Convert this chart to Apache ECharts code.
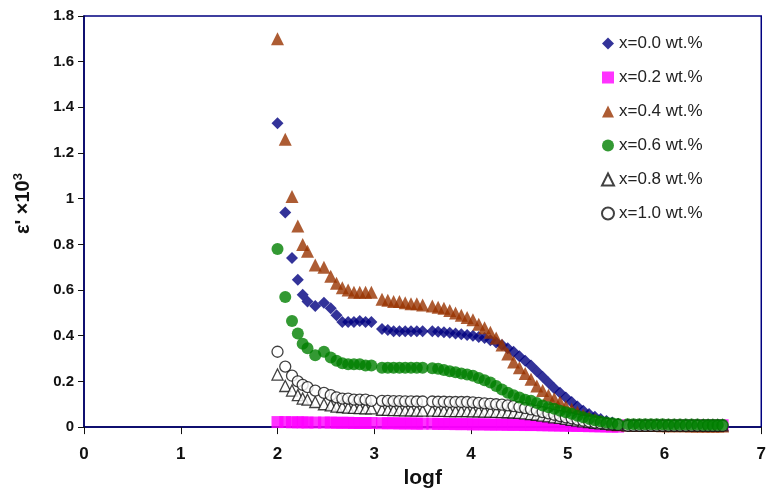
<!DOCTYPE html>
<html>
<head>
<meta charset="utf-8">
<script src="https://cdn.jsdelivr.net/npm/echarts@6/dist/echarts.min.js"></script>
<style>
  html, body { margin: 0; padding: 0; background: #fff; }
  #chart { width: 769px; height: 494px; }
</style>
</head>
<body>
<div id="chart"></div>
<script>
// logf values (shared by every series)
var logf = [
  2.00, 2.08, 2.15, 2.21, 2.26, 2.31, 2.39, 2.48, 2.55, 2.61,
  2.67, 2.73, 2.79, 2.85, 2.91, 2.97, 3.08, 3.14, 3.20, 3.26,
  3.32, 3.38, 3.44, 3.50, 3.60, 3.66, 3.72, 3.78, 3.84, 3.90,
  3.96, 4.02, 4.08, 4.14, 4.20, 4.26, 4.32, 4.38, 4.44, 4.50,
  4.56, 4.62, 4.68, 4.74, 4.80, 4.86, 4.92, 4.98, 5.04, 5.10,
  5.16, 5.22, 5.28, 5.34, 5.40, 5.46, 5.52, 5.62, 5.68, 5.74,
  5.80, 5.86, 5.92, 5.98, 6.04, 6.10, 6.16, 6.22, 6.28, 6.34,
  6.40, 6.45, 6.50, 6.55, 6.60
];

var eps00 = [
  1.33, 0.94, 0.74, 0.645, 0.58, 0.55, 0.53, 0.545, 0.52, 0.49,
  0.46, 0.46, 0.46, 0.465, 0.46, 0.46, 0.43, 0.425, 0.42, 0.42,
  0.42, 0.42, 0.42, 0.42, 0.42, 0.418, 0.415, 0.413, 0.41, 0.407,
  0.403, 0.40, 0.395, 0.39, 0.38, 0.37, 0.36, 0.345, 0.33, 0.31,
  0.29, 0.27, 0.245, 0.22, 0.195, 0.17, 0.15, 0.13, 0.11, 0.09,
  0.072, 0.057, 0.045, 0.035, 0.027, 0.02, 0.014, 0.01, 0.009, 0.008,
  0.008, 0.007, 0.007, 0.007, 0.006, 0.006, 0.006, 0.006, 0.005, 0.005,
  0.005, 0.005, 0.005, 0.005, 0.005
];

var eps02 = [
  0.022, 0.022, 0.021, 0.021, 0.021, 0.02, 0.02, 0.02, 0.02, 0.019,
  0.019, 0.019, 0.018, 0.018, 0.018, 0.018, 0.017, 0.017, 0.017, 0.016,
  0.016, 0.016, 0.015, 0.015, 0.015, 0.014, 0.014, 0.014, 0.013, 0.013,
  0.013, 0.012, 0.012, 0.012, 0.011, 0.011, 0.011, 0.01, 0.01, 0.01,
  0.009, 0.009, 0.009, 0.008, 0.008, 0.007, 0.007, 0.006, 0.006, 0.005,
  0.005, 0.004, 0.004, 0.003, 0.003, 0.002, 0.002, 0.008, 0.008, 0.008,
  0.008, 0.008, 0.008, 0.008, 0.008, 0.008, 0.008, 0.008, 0.008, 0.008,
  0.008, 0.008, 0.008, 0.008, 0.008
];

var eps04 = [
  1.70, 1.26, 1.01, 0.88, 0.80, 0.77, 0.71, 0.70, 0.66, 0.63,
  0.61, 0.60, 0.59, 0.59, 0.59, 0.59, 0.56, 0.555, 0.55, 0.55,
  0.545, 0.54, 0.54, 0.535, 0.53, 0.525, 0.52, 0.51, 0.50, 0.49,
  0.48, 0.47, 0.45, 0.435, 0.415, 0.39, 0.36, 0.32, 0.285, 0.26,
  0.235, 0.21, 0.18, 0.16, 0.14, 0.125, 0.11, 0.09, 0.078, 0.065,
  0.052, 0.042, 0.033, 0.025, 0.019, 0.014, 0.01, 0.009, 0.008, 0.008,
  0.007, 0.007, 0.007, 0.006, 0.006, 0.006, 0.006, 0.006, 0.005, 0.005,
  0.005, 0.005, 0.005, 0.005, 0.005
];

var eps06 = [
  0.78, 0.57, 0.465, 0.41, 0.365, 0.345, 0.315, 0.33, 0.305, 0.29,
  0.28, 0.275, 0.275, 0.275, 0.27, 0.27, 0.26, 0.26, 0.26, 0.26,
  0.26, 0.26, 0.26, 0.26, 0.258, 0.255, 0.25, 0.245, 0.24, 0.235,
  0.23, 0.225, 0.215, 0.205, 0.195, 0.18, 0.165, 0.15, 0.14, 0.13,
  0.12, 0.115, 0.105, 0.095, 0.087, 0.08, 0.072, 0.065, 0.058, 0.05,
  0.043, 0.036, 0.03, 0.025, 0.02, 0.017, 0.014, 0.013, 0.013, 0.012,
  0.012, 0.012, 0.012, 0.012, 0.011, 0.011, 0.011, 0.011, 0.011, 0.011,
  0.01, 0.01, 0.01, 0.01, 0.01
];

var eps08 = [
  0.23, 0.18, 0.16, 0.14, 0.125, 0.12, 0.11, 0.10, 0.095, 0.09,
  0.088, 0.085, 0.084, 0.083, 0.082, 0.082, 0.076, 0.075, 0.074, 0.074,
  0.073, 0.073, 0.072, 0.072, 0.072, 0.071, 0.071, 0.07, 0.07, 0.07,
  0.07, 0.069, 0.069, 0.068, 0.068, 0.067, 0.066, 0.065, 0.064, 0.062,
  0.06, 0.057, 0.054, 0.05, 0.047, 0.043, 0.04, 0.036, 0.032, 0.028,
  0.025, 0.022, 0.019, 0.016, 0.014, 0.012, 0.011, 0.008, 0.008, 0.008,
  0.008, 0.008, 0.008, 0.008, 0.008, 0.008, 0.008, 0.008, 0.008, 0.008,
  0.008, 0.008, 0.008, 0.008, 0.008
];

var eps10 = [
  0.33, 0.265, 0.225, 0.20, 0.185, 0.175, 0.16, 0.15, 0.14, 0.13,
  0.125, 0.125, 0.12, 0.12, 0.12, 0.115, 0.115, 0.115, 0.114, 0.114,
  0.113, 0.113, 0.112, 0.112, 0.112, 0.111, 0.111, 0.11, 0.11, 0.11,
  0.11, 0.108, 0.106, 0.104, 0.102, 0.10, 0.098, 0.095, 0.092, 0.088,
  0.083, 0.078, 0.072, 0.066, 0.06, 0.054, 0.048, 0.043, 0.038, 0.033,
  0.028, 0.024, 0.02, 0.017, 0.014, 0.012, 0.01, 0.006, 0.006, 0.006,
  0.006, 0.006, 0.006, 0.006, 0.006, 0.006, 0.006, 0.006, 0.006, 0.006,
  0.006, 0.006, 0.006, 0.006, 0.006
];

var xTicks = [0, 7, 1];
var yTicks = [0, 1.8, 0.2];

var chart = echarts.init(document.getElementById("chart"));

function pts(ys) {
  return logf.map(function (x, i) {
    return [x, ys[i]];
  });
}

var FONT = "Liberation Sans";

chart.setOption({
  animation: false,
  grid: {
    left: 84,
    right: 6,
    top: 16,
    bottom: 59,
    show: true,
    borderColor: "#000080",
    borderWidth: 1.5
  },
  legend: {
    orient: "vertical",
    left: 596,
    top: 30,
    itemWidth: 12,
    itemHeight: 12,
    itemGap: 17,
    textStyle: {
      fontFamily: FONT,
      fontSize: 17,
      color: "#222"
    }
  },
  xAxis: {
    type: "value",
    min: xTicks[0],
    max: xTicks[1],
    interval: xTicks[2],
    name: "logf",
    nameLocation: "middle",
    nameGap: 37,
    nameTextStyle: {
      fontFamily: FONT,
      fontSize: 21,
      fontWeight: "bold",
      color: "#111"
    },
    axisLine: { lineStyle: { color: "#000060", width: 1.5 } },
    axisTick: { show: true, length: 7, lineStyle: { color: "#111" } },
    axisLabel: {
      margin: 19,
      fontFamily: FONT,
      fontSize: 17,
      fontWeight: "bold",
      color: "#111"
    },
    splitLine: { show: false }
  },
  yAxis: {
    type: "value",
    min: yTicks[0],
    max: yTicks[1],
    interval: yTicks[2],
    name: "ε' ×10{sup|3}",
    nameLocation: "middle",
    nameGap: 50,
    nameRotate: 90,
    nameTextStyle: {
      fontFamily: FONT,
      fontSize: 20,
      fontWeight: "bold",
      color: "#111",
      padding: [0, 0, 0, 36],
      rich: {
        sup: {
          fontFamily: FONT,
          fontSize: 13,
          fontWeight: "bold",
          color: "#111",
          verticalAlign: "top",
          padding: [0, 0, 9, 0]
        }
      }
    },
    axisLine: { show: true, lineStyle: { color: "#000060", width: 1.5 } },
    axisTick: { show: true, length: 6, lineStyle: { color: "#111" } },
    axisLabel: {
      margin: 10,
      fontFamily: FONT,
      fontSize: 15,
      fontWeight: "bold",
      color: "#111"
    },
    splitLine: { show: false }
  },
  series: [
    {
      name: "x=0.0 wt.%",
      type: "scatter",
      symbol: "diamond",
      symbolSize: 12,
      z: 2,
      itemStyle: { color: "#000080" },
      data: pts(eps00)
    },
    {
      name: "x=0.2 wt.%",
      type: "scatter",
      symbol: "rect",
      symbolSize: 12,
      z: 2,
      itemStyle: { color: "#ff00ff" },
      data: pts(eps02)
    },
    {
      name: "x=0.4 wt.%",
      type: "scatter",
      symbol: "triangle",
      symbolSize: 13,
      z: 2,
      itemStyle: { color: "#993300" },
      data: pts(eps04)
    },
    {
      name: "x=0.6 wt.%",
      type: "scatter",
      symbol: "circle",
      symbolSize: 12,
      z: 4,
      itemStyle: { color: "#008000" },
      data: pts(eps06)
    },
    {
      name: "x=0.8 wt.%",
      type: "scatter",
      symbol: "triangle",
      symbolSize: 11,
      z: 3,
      itemStyle: { color: "#ffffff", borderColor: "#111", borderWidth: 1.3 },
      data: pts(eps08)
    },
    {
      name: "x=1.0 wt.%",
      type: "scatter",
      symbol: "circle",
      symbolSize: 11,
      z: 3,
      itemStyle: { color: "#ffffff", borderColor: "#111", borderWidth: 1.3 },
      data: pts(eps10)
    }
  ]
});
</script>
</body>
</html>
